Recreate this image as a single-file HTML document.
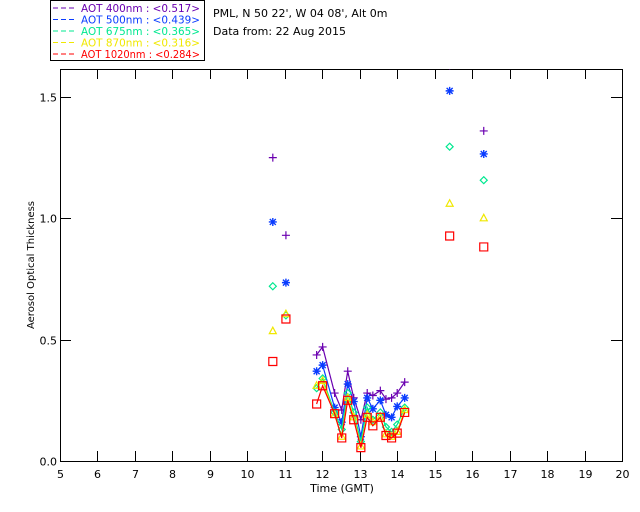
<!DOCTYPE html>
<html><head><meta charset="utf-8"><style>
html,body{margin:0;padding:0;background:#fff;}
svg{display:block;font-family:"DejaVu Sans","Liberation Sans",sans-serif;}
</style></head><body>
<svg id="c" width="640" height="512" viewBox="0 0 640 512">
<rect width="640" height="512" fill="#fff"/>
<g>
<rect x="50.5" y="0.5" width="154" height="60" fill="none" stroke="#000"/>
</g>
<text x="213" y="17" font-size="11">PML, N 50 22', W 04 08', Alt 0m</text>
<text x="213" y="35" font-size="11">Data from: 22 Aug 2015</text>
<text x="342" y="492" font-size="11" text-anchor="middle">Time (GMT)</text>
<text transform="translate(34,265) rotate(-90)" font-size="10" text-anchor="middle">Aerosol Optical Thickness</text>
<defs><clipPath id="pc"><rect x="60" y="69" width="562" height="392"/></clipPath></defs>
<g id="axes"></g>
<g id="marks" clip-path="url(#pc)"></g>
</svg>
<script>
const times=[10.68,11.03,11.85,12.01,12.33,12.52,12.68,12.84,13.03,13.2,13.35,13.55,13.7,13.85,14.0,14.2,15.4,16.31];
const aot400=[1.25,0.93,0.437,0.47,0.28,0.21,0.37,0.26,0.17,0.28,0.27,0.29,0.255,0.26,0.28,0.325,1.63,1.36];
const aot500=[0.985,0.735,0.37,0.395,0.22,0.16,0.317,0.245,0.10,0.26,0.215,0.25,0.19,0.18,0.225,0.26,1.525,1.265];
const aot675=[0.72,0.60,0.30,0.34,0.20,0.13,0.28,0.20,0.08,0.22,0.17,0.20,0.14,0.12,0.15,0.22,1.295,1.157];
const aot870=[0.535,0.605,0.31,0.33,0.19,0.10,0.26,0.18,0.06,0.19,0.16,0.18,0.11,0.10,0.12,0.21,1.06,1.0];
const aot1020=[0.41,0.585,0.235,0.31,0.195,0.095,0.25,0.17,0.055,0.18,0.145,0.18,0.105,0.095,0.115,0.20,0.927,0.882];
const xTicks=[5,6,7,8,9,10,11,12,13,14,15,16,17,18,19,20];
const yTicks=[0,0.5,1.0,1.5];
const yTickLabels=["0.0","0.5","1.0","1.5"];
const legendLabels=["AOT  400nm : <0.517>","AOT  500nm : <0.439>","AOT  675nm : <0.365>","AOT  870nm : <0.316>","AOT 1020nm : <0.284>"];

const NS="http://www.w3.org/2000/svg";
const X0=60,X1=622,Y0=461,YT=69;
const xs=t=>X0+(t-5)*(X1-X0)/15;
const ys=v=>Y0-v*242.7;
function mk(tag,at,parent){const e=document.createElementNS(NS,tag);for(const k in at)e.setAttribute(k,at[k]);parent.appendChild(e);return e;}
const axes=document.getElementById('axes'),marks=document.getElementById('marks'),svg=document.getElementById('c');

const frame=mk('path',{d:`M${X0+.5},${YT+.5}H${X1+.5}V${Y0+.5}H${X0+.5}Z`,fill:'none',stroke:'#000'},axes);


xTicks.forEach(t=>{
  const x=Math.round(xs(t))+.5;
  const tk=mk('path',{d:`M${x},${Y0}v-10M${x},${YT}v10`,stroke:'#000'},axes);
  
  
  const l=mk('text',{x:x,y:Y0+17,'font-size':11,'text-anchor':'middle'},axes);l.textContent=t;
  
  
});
yTicks.forEach((v,i)=>{
  const y=Math.round(ys(v))+.5;
  const tk=mk('path',{d:`M${X0},${y}h11M${X1},${y}h-11`,stroke:'#000'},axes);
  
  
  const l=mk('text',{x:X0-3,y:y+4,'font-size':11,'text-anchor':'end'},axes);l.textContent=yTickLabels[i];
  
  
});

const series=[
 {name:'400',vals:aot400,col:'#6a00b0',m:'plus'},
 {name:'500',vals:aot500,col:'#0a3cff',m:'star'},
 {name:'675',vals:aot675,col:'#00e890',m:'diamond'},
 {name:'870',vals:aot870,col:'#f0e800',m:'tri'},
 {name:'1020',vals:aot1020,col:'#ff0000',m:'square'}
];
function marker(type,x,y,col,g){
  let d;
  if(type==='plus')d=`M${x-4},${y}h8M${x},${y-4}v8`;
  else if(type==='star')d=`M${x-4},${y}h8M${x},${y-4}v8M${x-3},${y-3}l6,6M${x-3},${y+3}l6,-6`;
  else if(type==='diamond')d=`M${x},${y-3.5}l3.5,3.5l-3.5,3.5l-3.5,-3.5Z`;
  else if(type==='tri')d=`M${x},${y-4}l3.5,6.5h-7Z`;
  else d=`M${x-4},${y-4}h8v8h-8Z`;
  return mk('path',{d:d,fill:'none',stroke:col,'stroke-width':type==='star'?1.4:1.2},g);
}
series.forEach(s=>{
  const g=mk('g',{},marks);
  
  
  let d='';
  for(let i=0;i<times.length;i++){
    const x=xs(times[i]),y=ys(s.vals[i]);
    const join=i>0&&times[i]-times[i-1]<0.34;
    d+=(join?'L':'M')+x.toFixed(1)+','+y.toFixed(1);
  }
  const ln=mk('path',{d:d,fill:'none',stroke:s.col,'stroke-width':1.2},g);
  
  
  for(let i=0;i<times.length;i++){
    const p=marker(s.m,xs(times[i]),ys(s.vals[i]),s.col,g);
    
    
  }
});
const lg=mk('g',{},svg);


series.forEach((s,i)=>{
  const y=8+i*11.5;
  const dl=mk('path',{d:`M53,${y}h23`,stroke:s.col,'stroke-dasharray':'5,3'},lg);
  
  
  const t=mk('text',{x:81,y:y+4,'font-size':10.5,fill:s.col,'xml:space':'preserve',textLength:119,lengthAdjust:'spacingAndGlyphs'},lg);
  t.textContent=legendLabels[i];
  
  
});
</script>
</body></html>
